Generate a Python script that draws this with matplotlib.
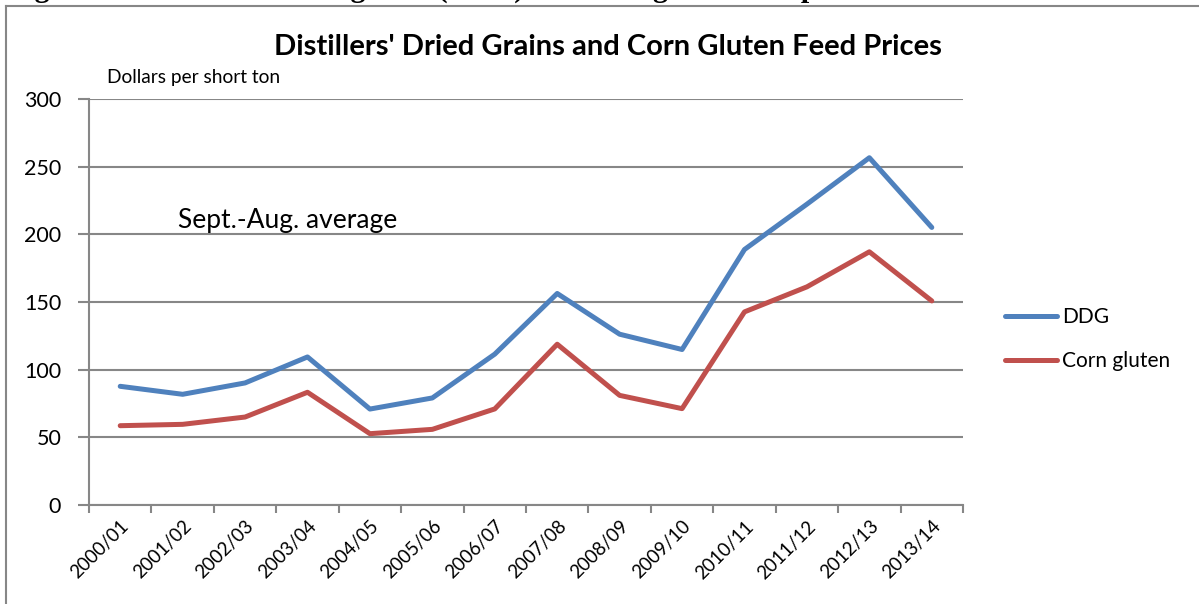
import matplotlib
matplotlib.use("Agg")
import matplotlib.pyplot as plt
from matplotlib.lines import Line2D

categories = ["2000/01", "2001/02", "2002/03", "2003/04", "2004/05", "2005/06", "2006/07",
              "2007/08", "2008/09", "2009/10", "2010/11", "2011/12", "2012/13", "2013/14"]
ddg = [87.7, 81.8, 90.2, 109.4, 70.9, 79.1, 111.5, 156.3, 126.2, 114.9, 188.8, 222.3, 256.6, 205.1]
corn_gluten = [58.6, 59.6, 65.0, 83.3, 52.7, 55.9, 71.0, 118.8, 81.0, 71.2, 142.7, 161.2, 187.1, 150.8]
yticks = [0, 50, 100, 150, 200, 250, 300]

FONT = ["Lato", "DejaVu Sans"]
GRID = "#878787"

fig = plt.figure(figsize=(11.99, 6.04), dpi=100)
W, H = 1199, 604

# cut-off figure caption at top (only descenders visible, as in the source)
fig.text(8 / W, 1 + 3 / H, "Figure 3\u2014Distillers' dried grains (DDG) and corn gluten feed prices",
         family="Liberation Serif", weight="bold", fontsize=21.5, ha="left", va="baseline")

# outer chart frame (left and top edges visible)
fig.add_artist(Line2D([6 / W, 6 / W], [0, 1 - 6 / H], transform=fig.transFigure, color=GRID, lw=1.5))
fig.add_artist(Line2D([6 / W, 1], [1 - 6 / H, 1 - 6 / H], transform=fig.transFigure, color=GRID, lw=1.5))

ax = fig.add_axes([89 / W, 1 - 505 / H, (963 - 89) / W, (505 - 99) / H])
x = list(range(len(categories)))
ax.plot(x, ddg, color="#4F81BD", lw=3.6, label="DDG", solid_capstyle="round", solid_joinstyle="round")
ax.plot(x, corn_gluten, color="#C0504D", lw=3.6, label="Corn gluten", solid_capstyle="round", solid_joinstyle="round")

ax.set_xlim(-0.5, len(categories) - 0.5)
ax.set_ylim(0, 300)
ax.set_yticks(yticks)
ax.set_yticklabels([str(v) for v in yticks], family=FONT, fontsize=15.5)
ax.yaxis.grid(True, color=GRID, lw=1.5)
ax.set_axisbelow(True)

ax.set_xticks([i + 0.5 for i in range(-1, len(categories))], minor=False)
ax.set_xticklabels([])
ax.set_xticks(x, minor=True)
ax.set_xticklabels(categories, minor=True, rotation=45, ha="right", va="top",
                   rotation_mode="anchor", family=FONT, fontsize=13.5)
ax.tick_params(axis="x", which="major", length=6, width=1.5, color=GRID)
ax.tick_params(axis="x", which="minor", length=0, pad=9)
ax.tick_params(axis="y", length=8, width=1.5, color=GRID, pad=12)

for s in ["top", "right"]:
    ax.spines[s].set_visible(False)
ax.spines["left"].set_color(GRID)
ax.spines["left"].set_linewidth(1.5)
ax.spines["bottom"].set_color(GRID)
ax.spines["bottom"].set_linewidth(1.5)

fig.text(608 / W, 1 - 47 / H, "Distillers' Dried Grains and Corn Gluten Feed Prices",
         family=FONT, weight="bold", fontsize=21, ha="center", va="center")
fig.text(107 / W, 1 - 77 / H, "Dollars per short ton", family=FONT, fontsize=13.8, ha="left", va="center")
ax.text(0.92, 210, "Sept.-Aug. average", family=FONT, fontsize=19, ha="left", va="center")

leg = fig.legend(loc="center left", bbox_to_anchor=(1005 / W, 1 - 339 / H), frameon=False,
                 prop={"family": FONT, "size": 15}, handlelength=2.5, handletextpad=0.25,
                 labelspacing=1.15, borderpad=0, borderaxespad=0)

fig.savefig("out.png", dpi=100)
